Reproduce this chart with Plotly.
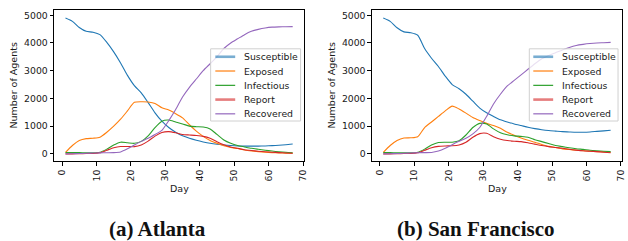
import plotly.graph_objects as go

days = list(range(1, 68, 2))
series_names = ["Susceptible", "Exposed", "Infectious", "Report", "Recovered"]
colors = ["#1f77b4", "#ff7f0e", "#2ca02c", "#d62728", "#9467bd"]
x_ticks = [0, 10, 20, 30, 40, 50, 60, 70]
y_ticks = [0, 1000, 2000, 3000, 4000, 5000]
captions = ["(a) Atlanta", "(b) San Francisco"]

atl_susceptible = [4900, 4780, 4560, 4420, 4390, 4300, 4020, 3680, 3280, 2830, 2460, 2200, 1850, 1480,
                   1180, 950, 780, 650, 560, 490, 430, 380, 345, 320, 300, 285, 280, 278, 280, 285,
                   295, 310, 330, 355]
atl_exposed = [50, 300, 480, 550, 565, 600, 780, 1000, 1250, 1550, 1860, 1880, 1870, 1820, 1660, 1580,
               1450, 1300, 1050, 820, 630, 480, 380, 290, 230, 190, 140, 105, 80, 60, 45, 35, 25, 20]
atl_infectious = [50, 50, 45, 40, 40, 60, 170, 320, 420, 400, 380, 450, 650, 950, 1180, 1220, 1150,
                  1080, 1000, 980, 970, 900, 700, 500, 380, 300, 250, 200, 165, 130, 100, 75, 55, 40]
atl_report = [0, 0, 5, 10, 15, 40, 130, 220, 265, 265, 260, 320, 460, 640, 770, 800, 760, 700, 680,
              660, 630, 560, 440, 330, 250, 200, 150, 120, 95, 75, 60, 45, 30, 20]
atl_recovered = [0, 5, 10, 20, 30, 35, 40, 45, 70, 180, 320, 450, 560, 700, 850, 1200, 1600, 2050,
                 2400, 2700, 3000, 3250, 3500, 3800, 4000, 4150, 4300, 4420, 4490, 4540, 4570, 4580,
                 4585, 4590]

sf_susceptible = [4900, 4780, 4550, 4400, 4370, 4280, 3800, 3450, 3150, 2800, 2500, 2350, 2150, 1900,
                  1650, 1480, 1350, 1230, 1150, 1080, 1020, 960, 910, 870, 840, 820, 800, 790, 780,
                  780, 790, 810, 830, 850]
sf_exposed = [50, 300, 480, 570, 580, 620, 950, 1150, 1350, 1550, 1720, 1620, 1470, 1310, 1200, 1100,
              1020, 920, 780, 670, 570, 490, 420, 340, 270, 230, 180, 155, 130, 110, 95, 80, 70, 60]
sf_infectious = [50, 45, 40, 40, 40, 60, 170, 320, 410, 420, 420, 470, 680, 950, 1100, 1080, 900, 760,
                 690, 650, 630, 600, 510, 440, 370, 300, 260, 220, 185, 160, 130, 110, 95, 80]
sf_report = [0, 0, 5, 10, 15, 40, 130, 220, 270, 285, 290, 320, 420, 600, 730, 740, 620, 530, 480,
             455, 440, 400, 350, 300, 260, 230, 200, 165, 135, 110, 95, 80, 60, 40]
sf_recovered = [0, 5, 10, 20, 30, 40, 45, 50, 100, 200, 330, 450, 560, 720, 950, 1350, 1800, 2150,
                2450, 2650, 2850, 3050, 3250, 3430, 3550, 3650, 3750, 3840, 3910, 3950, 3980, 4000,
                4010, 4020]

cities = [
    [atl_susceptible, atl_exposed, atl_infectious, atl_report, atl_recovered],
    [sf_susceptible, sf_exposed, sf_infectious, sf_report, sf_recovered],
]

W, H = 628, 241
FONT = "DejaVu Sans"
TXT = "#1a1a1a"

fig = go.Figure()
for ci, data in enumerate(cities):
    xa = "x" if ci == 0 else "x2"
    ya = "y" if ci == 0 else "y2"
    for si, vals in enumerate(data):
        fig.add_trace(go.Scatter(
            x=days, y=vals, mode="lines", name=series_names[si],
            line=dict(color=colors[si], width=1.1, shape="spline", smoothing=0.6),
            xaxis=xa, yaxis=ya, showlegend=False,
        ))

# axes pixel boxes (left, right, top, bottom)
boxes = [(54.5, 306, 9.3, 161), (374.3, 626, 9.3, 161)]


def px2x(p):
    return p / W


def px2y(p):
    return 1 - p / H


axis_common = dict(
    showline=True, mirror=True, linecolor="black", linewidth=1,
    ticks="outside", ticklen=3.5, tickwidth=1, tickcolor="black",
    showgrid=False, zeroline=False,
    tickfont=dict(family=FONT, size=9.3, color=TXT),
)

layout_axes = {}
for ci, (l, r, t, b) in enumerate(boxes):
    sx = "" if ci == 0 else "2"
    layout_axes["xaxis" + sx] = dict(
        axis_common, domain=[px2x(l), px2x(r)], range=[-2.3, 70.3],
        tickvals=x_ticks, tickangle=-90, anchor="y" + sx,
    )
    layout_axes["yaxis" + sx] = dict(
        axis_common, domain=[px2y(b), px2y(t)], range=[-270, 5180],
        tickvals=y_ticks, anchor="x" + sx,
    )

annotations = []
shapes = []
ylab_x = [14, 334]
day_x = [181, 500.7]
cap_x = [159, 479]
# legend geometry (pixels): box left, box right, line start, line end, text start
leg_geo = [(212, 302.5, 216.7, 236.7, 243.3), (532.7, 622, 536.7, 556.7, 563.3)]
leg_top, leg_bot = 48, 120.5
item_y = [56, 70.3, 84.7, 99, 113.3]

for ci in range(2):
    annotations.append(dict(
        x=px2x(ylab_x[ci]), y=px2y(85), xref="paper", yref="paper",
        text="Number of Agents", textangle=-90, showarrow=False,
        font=dict(family=FONT, size=9.5, color=TXT), xanchor="center", yanchor="middle",
    ))
    annotations.append(dict(
        x=px2x(day_x[ci]), y=px2y(188), xref="paper", yref="paper",
        text="Day", showarrow=False,
        font=dict(family=FONT, size=9.5, color=TXT), xanchor="center", yanchor="middle",
    ))
    annotations.append(dict(
        x=px2x(cap_x[ci]), y=px2y(229), xref="paper", yref="paper",
        text="<b>" + captions[ci] + "</b>", showarrow=False,
        font=dict(family="Liberation Serif", size=21, color="#111"),
        xanchor="center", yanchor="middle",
    ))
    bl, br, ls, le, tx = leg_geo[ci]
    shapes.append(dict(
        type="rect", xref="paper", yref="paper",
        x0=px2x(bl), x1=px2x(br), y0=px2y(leg_bot), y1=px2y(leg_top),
        fillcolor="rgba(255,255,255,0.8)", line=dict(color="#d0d0d0", width=1),
    ))
    for si, name in enumerate(series_names):
        thick = si in (0, 3)
        shapes.append(dict(
            type="line", xref="paper", yref="paper",
            x0=px2x(ls), x1=px2x(le), y0=px2y(item_y[si]), y1=px2y(item_y[si]),
            line=dict(color=colors[si], width=2.6 if thick else 1.2),
            opacity=0.6 if thick else 1.0,
        ))
        annotations.append(dict(
            x=px2x(tx), y=px2y(item_y[si]), xref="paper", yref="paper",
            text=name, showarrow=False,
            font=dict(family=FONT, size=9.3, color=TXT),
            xanchor="left", yanchor="middle",
        ))

fig.update_layout(
    width=W, height=H,
    margin=dict(l=0, r=0, t=0, b=0),
    paper_bgcolor="white", plot_bgcolor="white",
    annotations=annotations,
    shapes=shapes,
    showlegend=False,
    hovermode=False,
    **layout_axes,
)

fig.write_html(
    "out.html",
    config={"displayModeBar": False, "staticPlot": True},
    post_script="document.body.style.margin='0px';document.body.style.padding='0px';",
)
